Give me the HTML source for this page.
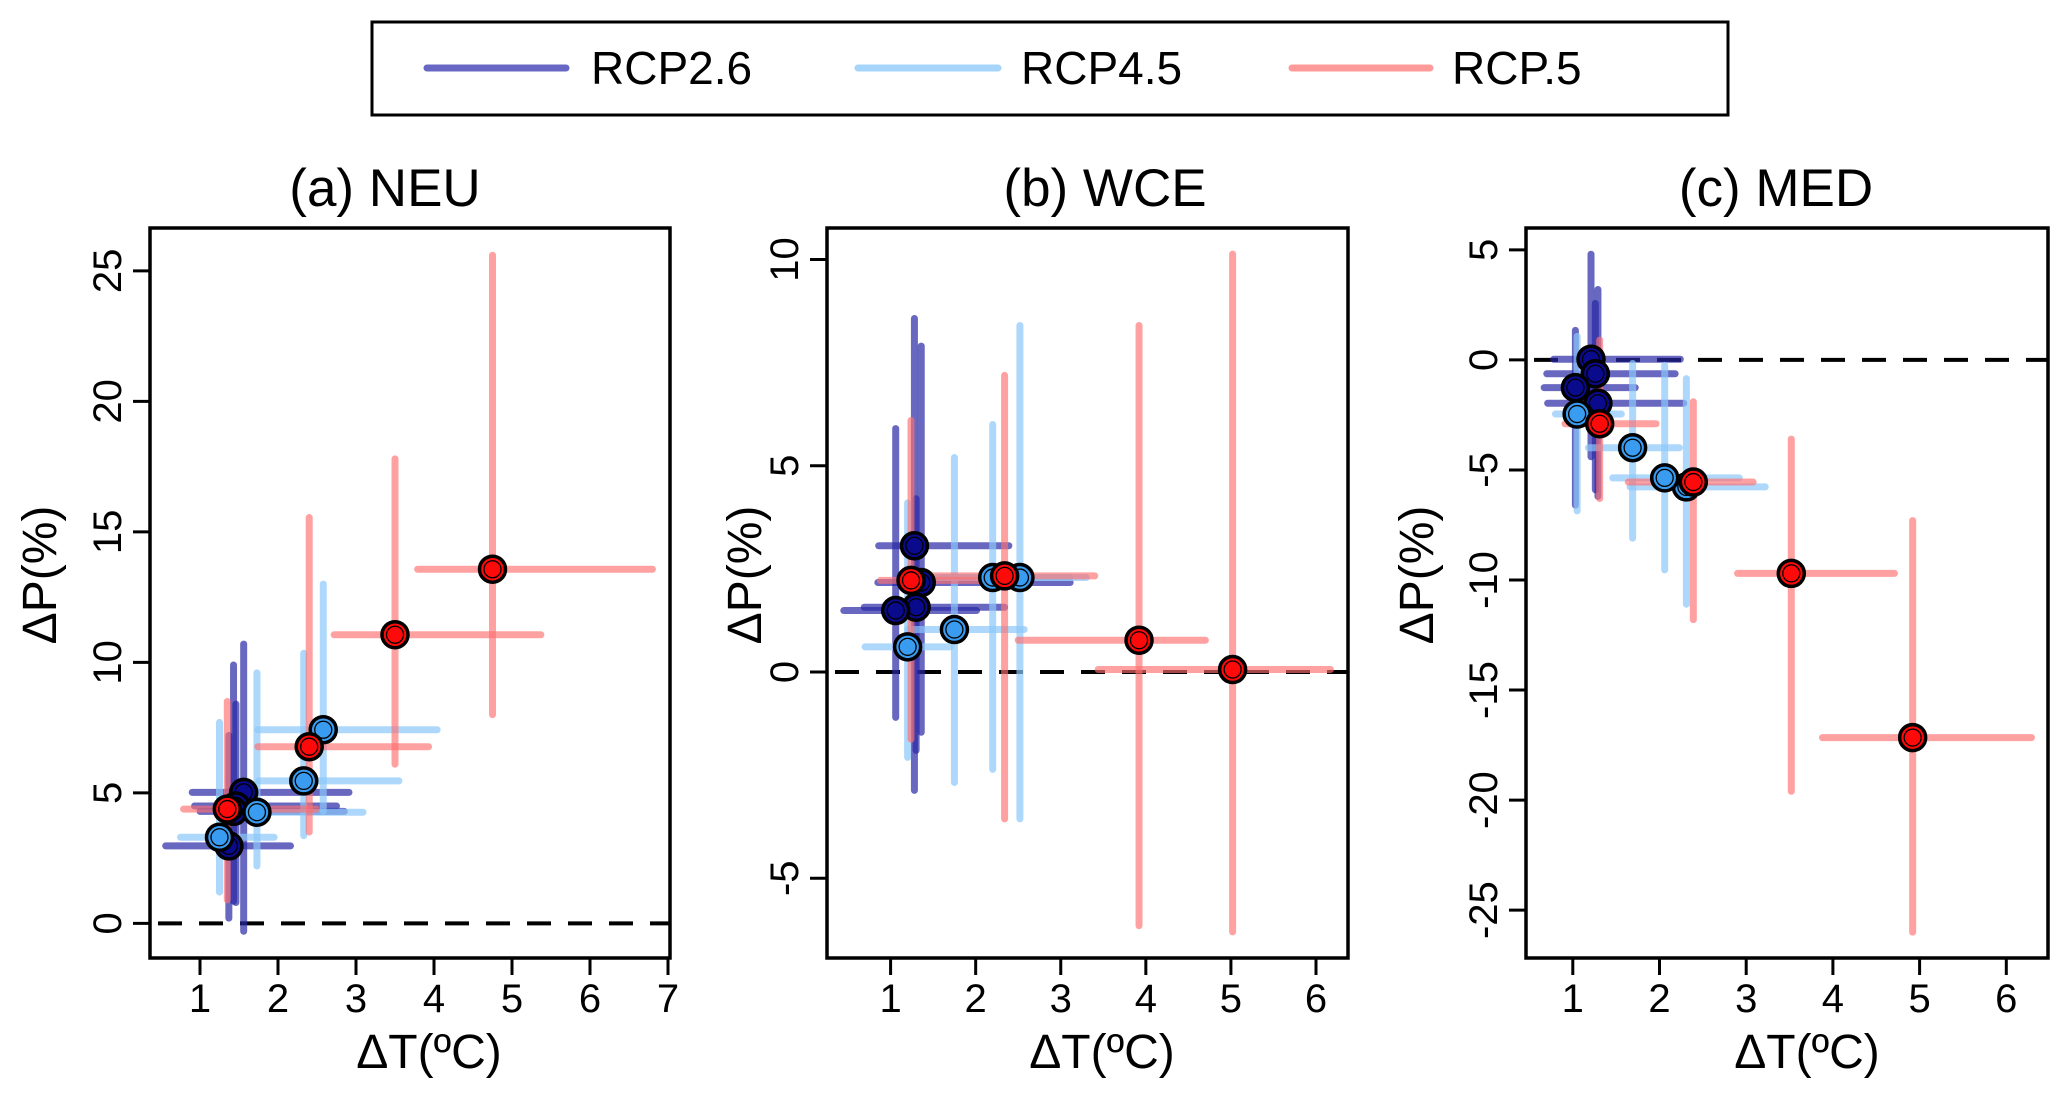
<!DOCTYPE html>
<html><head><meta charset="utf-8"><style>
html,body{margin:0;padding:0;background:#fff;}
svg text{font-family:"Liberation Sans",Arial,sans-serif;fill:#000;}
</style></head><body>
<svg id="chart" width="2067" height="1093" viewBox="0 0 2067 1093" xmlns="http://www.w3.org/2000/svg">
<g>
<rect x="372" y="22" width="1356" height="93" fill="#fff" stroke="#000" stroke-width="3"/>
<line x1="427" y1="68" x2="566" y2="68" stroke="#6868c4" stroke-width="7" stroke-linecap="round"/>
<text x="591" y="84" font-size="46">RCP2.6</text>
<line x1="858" y1="68" x2="998" y2="68" stroke="#a6d4fb" stroke-width="7" stroke-linecap="round"/>
<text x="1021" y="84" font-size="46">RCP4.5</text>
<line x1="1292" y1="68" x2="1430" y2="68" stroke="#ff9a9a" stroke-width="7" stroke-linecap="round"/>
<text x="1452" y="84" font-size="46">RCP.5</text>
</g>
</svg>
<script>
// Panel (a) NEU data: [x, y, xlo, xhi, ylo, yhi]
const neuRcp26 = [[1.56,5.02,0.9,2.91,-0.3,10.7],[1.46,4.5,0.93,2.75,0.8,8.4],[1.43,4.29,1.0,2.85,0.85,9.9],[1.37,2.97,0.56,2.16,0.2,7.2]];
const neuRcp45 = [[2.58,7.42,1.74,4.04,4.3,13.0],[2.33,5.46,1.75,3.55,3.36,10.35],[1.73,4.26,1.5,3.09,2.2,9.6],[1.25,3.3,0.75,1.95,1.2,7.7]];
const neuRcp85 = [[4.75,13.57,3.79,6.8,8.0,25.6],[3.5,11.06,2.72,5.37,6.1,17.8],[2.4,6.77,1.74,3.93,3.5,15.55],[1.35,4.38,0.79,2.49,0.9,8.5]];
// Panel (b) WCE
const wceRcp26 = [[1.28,3.06,0.86,2.39,-2.87,8.57],[1.36,2.17,0.85,3.11,-1.46,7.9],[1.3,1.57,0.69,2.34,-1.9,4.2],[1.06,1.49,0.45,2.01,-1.1,5.9]];
const wceRcp45 = [[2.52,2.29,1.59,3.3,-3.56,8.4],[2.2,2.29,1.54,3.11,-2.36,6.0],[1.75,1.03,1.2,2.57,-2.68,5.2],[1.2,0.61,0.7,1.7,-2.07,4.1]];
const wceRcp85 = [[5.02,0.06,3.44,6.17,-6.3,10.13],[3.92,0.77,2.5,4.7,-6.15,8.4],[2.34,2.33,1.5,3.4,-3.56,7.19],[1.24,2.22,0.88,2.38,-1.63,6.1]];
// Panel (c) MED
const medRcp26 = [[1.21,0.03,0.78,2.24,-4.4,4.8],[1.26,-0.63,0.7,2.18,-5.9,2.57],[1.03,-1.26,0.67,1.72,-6.6,1.34],[1.29,-1.97,0.71,2.28,-6.2,3.2]];
const medRcp45 = [[2.31,-5.77,1.66,3.22,-11.1,-0.85],[2.06,-5.36,1.46,2.92,-9.54,-0.25],[1.69,-3.99,1.18,2.23,-8.1,-0.16],[1.05,-2.46,0.8,1.56,-6.86,1.07]];
const medRcp85 = [[4.92,-17.16,3.88,6.29,-26.0,-7.3],[3.52,-9.7,2.9,4.71,-19.6,-3.6],[2.39,-5.55,1.64,3.08,-11.8,-1.9],[1.31,-2.9,0.91,1.96,-6.3,0.9]];
// Tick labels
const neuXTicks = [1,2,3,4,5,6,7];
const neuYTicks = [0,5,10,15,20,25];
const wceXTicks = [1,2,3,4,5,6];
const wceYTicks = [-5,0,5,10];
const medXTicks = [1,2,3,4,5,6];
const medYTicks = [-25,-20,-15,-10,-5,0,5];

const NS='http://www.w3.org/2000/svg';
const svg=document.getElementById('chart');
function mk(tag,attrs,parent){const e=document.createElementNS(NS,tag);for(const k in attrs)e.setAttribute(k,attrs[k]);(parent||svg).appendChild(e);return e;}

const panels=[
 {id:'neu',title:'(a) NEU',L:150,R:670,T:228,B:958,x0:200,xu:78.0,y0:923.4,yu:26.1,titleX:385,ylabX:40,xlabX:429,xt:neuXTicks,yt:neuYTicks,s:[neuRcp26,neuRcp45,neuRcp85]},
 {id:'wce',title:'(b) WCE',L:827,R:1348,T:228,B:958,x0:890.6,xu:85.08,y0:672,yu:41.25,titleX:1105,ylabX:745,xlabX:1102,xt:wceXTicks,yt:wceYTicks,s:[wceRcp26,wceRcp45,wceRcp85]},
 {id:'med',title:'(c) MED',L:1526,R:2048,T:228,B:958,x0:1572.8,xu:86.7,y0:359.9,yu:22.01,titleX:1776,ylabX:1417,xlabX:1807,xt:medXTicks,yt:medYTicks,s:[medRcp26,medRcp45,medRcp85]}
];
const barCol=['rgba(40,40,165,0.7)','rgba(140,200,250,0.7)','rgba(255,110,110,0.65)'];
const ptCol=['#0a0a8c','#3a9cf0','#ff0a0a'];
const sNames=['rcp26','rcp45','rcp85'];

panels.forEach(p=>{
 const g=mk('g',{});
 
 
 const X=v=>p.x0+(v-1)*p.xu;
 const Y=v=>p.y0-v*p.yu;
 const t=mk('text',{x:p.titleX,y:206,'font-size':53,'text-anchor':'middle'},g);t.textContent=p.title;
 
 
 const z=mk('line',{x1:p.L+8,x2:p.R,y1:Y(0),y2:Y(0),stroke:'#000','stroke-width':4,'stroke-dasharray':'24 17'},g);
 
 
 p.s.forEach((ser,si)=>{
  ser.forEach((d,i)=>{
   const h=mk('line',{x1:X(d[2]),x2:X(d[3]),y1:Y(d[1]),y2:Y(d[1]),stroke:barCol[si],'stroke-width':7,'stroke-linecap':'round'},g);
   
   
   const v=mk('line',{x1:X(d[0]),x2:X(d[0]),y1:Y(d[4]),y2:Y(d[5]),stroke:barCol[si],'stroke-width':7,'stroke-linecap':'round'},g);
   
   
  });
 });
 p.s.forEach((ser,si)=>{
  ser.forEach((d,i)=>{
   const c=mk('circle',{cx:X(d[0]),cy:Y(d[1]),r:13,fill:ptCol[si],stroke:'#000','stroke-width':3.5},g);
   
   
   const c2=mk('circle',{cx:X(d[0]),cy:Y(d[1]),r:8.5,fill:'none',stroke:'#000','stroke-width':1.3},g);
   
   
  });
 });
 const box=mk('rect',{x:p.L,y:p.T,width:p.R-p.L,height:p.B-p.T,fill:'none',stroke:'#000','stroke-width':3.5},g);
 
 
 p.xt.forEach(v=>{
  const tk=mk('line',{x1:X(v),x2:X(v),y1:p.B,y2:p.B+17,stroke:'#000','stroke-width':3},g);
  
  
  const tl=mk('text',{x:X(v),y:1012,'font-size':40,'text-anchor':'middle'},g);tl.textContent=v;
  
  
 });
 p.yt.forEach(v=>{
  const tk=mk('line',{x1:p.L-17,x2:p.L,y1:Y(v),y2:Y(v),stroke:'#000','stroke-width':3},g);
  
  
  const tl=mk('text',{x:0,y:0,'font-size':40,'text-anchor':'middle',transform:`translate(${p.L-29},${Y(v)}) rotate(-90)`},g);tl.textContent=v;
  
  
 });
 const xl=mk('text',{x:p.xlabX,y:1068,'font-size':48,'text-anchor':'middle'},g);xl.textContent='ΔT(ºC)';
 
 
 const yl=mk('text',{x:0,y:0,'font-size':48,'text-anchor':'middle',transform:`translate(${p.ylabX+16},575) rotate(-90)`},g);yl.textContent='ΔP(%)';
 
 
});
</script>
</body></html>
